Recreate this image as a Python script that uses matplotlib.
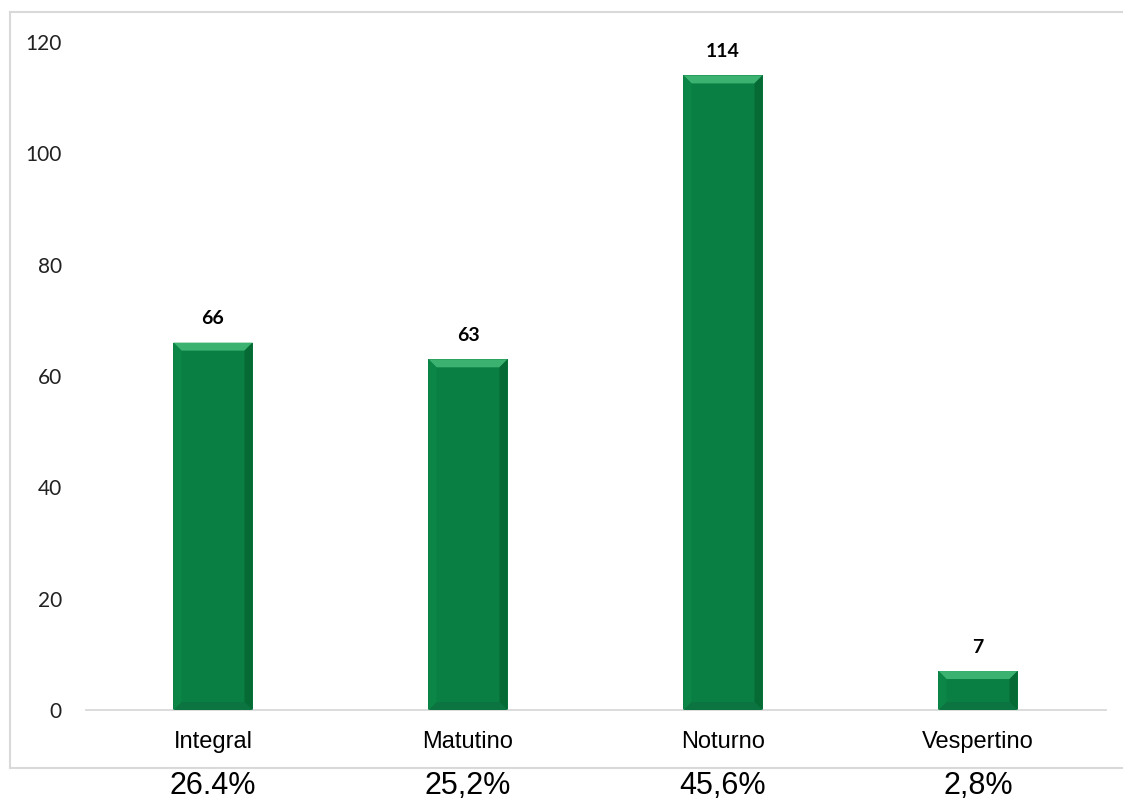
import matplotlib
matplotlib.use("Agg")
import matplotlib.pyplot as plt
from matplotlib.patches import Polygon
from matplotlib.lines import Line2D
from matplotlib.transforms import blended_transform_factory

categorias = ["Integral", "Matutino", "Noturno", "Vespertino"]
valores = [66, 63, 114, 7]
percentuais = ["26.4%", "25,2%", "45,6%", "2,8%"]
yticks = [0, 20, 40, 60, 80, 100, 120]

W, H = 1123, 801
fig = plt.figure(figsize=(W / 100, H / 100), dpi=100)

# moldura cinza clara (sem lado direito, sai da imagem)
fx0, fy0, fy1 = 10 / W, 33 / H, 789 / H
for xs, ys in [([1.05, fx0], [fy1, fy1]), ([fx0, fx0], [fy1, fy0]), ([fx0, 1.05], [fy0, fy0])]:
    fig.add_artist(Line2D(xs, ys, transform=fig.transFigure, color="#d9d9d9", lw=1.5))

ax = fig.add_axes([85.5 / W, 91 / H, 1020 / W, 668 / H])
x = range(len(categorias))
bars = ax.bar(x, valores, width=0.31, color="#0a7f43", zorder=2)

ax.set_xlim(-0.5, len(categorias) - 0.5)
ax.set_ylim(0, 120)
ax.set_yticks(yticks)
ax.set_yticklabels([str(t) for t in yticks], family="Lato", fontsize=15, color="#222222")
ax.set_xticks(list(x))
ax.set_xticklabels(categorias, family="Liberation Sans", fontsize=17)
ax.tick_params(axis="y", length=0, pad=17)
ax.tick_params(axis="x", length=0, pad=15)
for s in ["top", "right", "left"]:
    ax.spines[s].set_visible(False)
ax.spines["bottom"].set_color("#d9d9d9")
ax.spines["bottom"].set_linewidth(1.3)

for b, v in zip(bars, valores):
    ax.annotate(str(v), (b.get_x() + b.get_width() / 2, v), xytext=(0, 11),
                textcoords="offset points", ha="center", va="bottom",
                fontsize=14, fontweight="bold", family="Lato")

# bisel das barras, calculado a partir de cada barra em pixels
fig.canvas.draw()
bev = 8
for b in bars:
    bb = b.get_window_extent()
    x0, y0, x1, y1 = bb.x0, bb.y0, bb.x1, bb.y1
    d = min(bev, (y1 - y0) / 2)
    faces = [
        ([(x0, y1), (x1, y1), (x1 - bev, y1 - d), (x0 + bev, y1 - d)], "#3cb270"),
        ([(x1, y1), (x1, y0), (x1 - bev, y0 + d), (x1 - bev, y1 - d)], "#066a35"),
        ([(x0, y0), (x1, y0), (x1 - bev, y0 + d), (x0 + bev, y0 + d)], "#0b7440"),
        ([(x0, y1), (x0, y0), (x0 + bev, y0 + d), (x0 + bev, y1 - d)], "#0c8647"),
    ]
    for pts, c in faces:
        fig.patches.append(Polygon(pts, closed=True, transform=None, fc=c, ec="none", zorder=3))

trans = blended_transform_factory(ax.transData, fig.transFigure)
for i, p in enumerate(percentuais):
    ax.text(i, 15 / H, p, transform=trans, ha="center", va="center",
            fontsize=22, family="Liberation Sans", clip_on=False)

fig.savefig("out.png", dpi=100)
